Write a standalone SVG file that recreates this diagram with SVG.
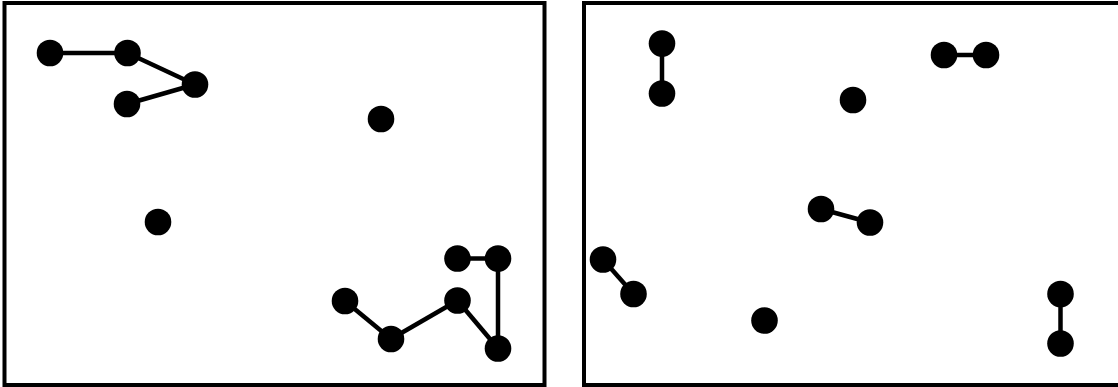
<svg xmlns="http://www.w3.org/2000/svg" width="1118" height="387" viewBox="0 0 1118 387">
<style>
.frame{fill:#fff;stroke:#000;stroke-width:4}
.n{fill:#000}
.e{stroke:#000;stroke-width:4.5;fill:none}
</style>
<rect x="0" y="0" width="1118" height="387" fill="#fff"/>
<g id="panel-left"><rect class="frame" x="4.5" y="3" width="540" height="382"/></g>
<g id="panel-right"><rect class="frame" x="584" y="3" width="540" height="382"/></g>
<g id="connectors">
<line class="e" x1="50" y1="53" x2="127.5" y2="53"/>
<line class="e" x1="127.5" y1="53" x2="195" y2="84.5"/>
<line class="e" x1="195" y1="84.5" x2="127" y2="104"/>
<line class="e" x1="345" y1="301" x2="391" y2="339"/>
<line class="e" x1="391" y1="339" x2="457.5" y2="300.5"/>
<line class="e" x1="457.5" y1="300.5" x2="498" y2="348.5"/>
<line class="e" x1="498" y1="348.5" x2="498" y2="258.5"/>
<line class="e" x1="457.5" y1="258.5" x2="498" y2="258.5"/>
<line class="e" x1="662" y1="43.5" x2="662" y2="93.5"/>
<line class="e" x1="944" y1="55" x2="986" y2="55"/>
<line class="e" x1="821" y1="209" x2="870" y2="222.5"/>
<line class="e" x1="603" y1="259.5" x2="633.5" y2="294"/>
<line class="e" x1="1060.5" y1="294" x2="1060.5" y2="343.5"/>
</g>
<g id="n1"><circle class="n" cx="50" cy="53" r="13.3"/></g>
<g id="n2"><circle class="n" cx="127.5" cy="53" r="13.3"/></g>
<g id="n3"><circle class="n" cx="195" cy="84.5" r="13.3"/></g>
<g id="n4"><circle class="n" cx="127" cy="104" r="13.3"/></g>
<g id="n5"><circle class="n" cx="381" cy="119" r="13.3"/></g>
<g id="n6"><circle class="n" cx="158" cy="222" r="13.3"/></g>
<g id="n7"><circle class="n" cx="345" cy="301" r="13.3"/></g>
<g id="n8"><circle class="n" cx="391" cy="339" r="13.3"/></g>
<g id="n9"><circle class="n" cx="457.5" cy="300.5" r="13.3"/></g>
<g id="n10"><circle class="n" cx="498" cy="348.5" r="13.3"/></g>
<g id="n11"><circle class="n" cx="457.5" cy="258.5" r="13.3"/></g>
<g id="n12"><circle class="n" cx="498" cy="258.5" r="13.3"/></g>
<g id="n13"><circle class="n" cx="662" cy="43.5" r="13.3"/></g>
<g id="n14"><circle class="n" cx="662" cy="93.5" r="13.3"/></g>
<g id="n15"><circle class="n" cx="944" cy="55" r="13.3"/></g>
<g id="n16"><circle class="n" cx="986" cy="55" r="13.3"/></g>
<g id="n17"><circle class="n" cx="853" cy="100" r="13.3"/></g>
<g id="n18"><circle class="n" cx="821" cy="209" r="13.3"/></g>
<g id="n19"><circle class="n" cx="870" cy="222.5" r="13.3"/></g>
<g id="n20"><circle class="n" cx="603" cy="259.5" r="13.3"/></g>
<g id="n21"><circle class="n" cx="633.5" cy="294" r="13.3"/></g>
<g id="n22"><circle class="n" cx="764.5" cy="320.5" r="13.3"/></g>
<g id="n23"><circle class="n" cx="1060.5" cy="294" r="13.3"/></g>
<g id="n24"><circle class="n" cx="1060.5" cy="343.5" r="13.3"/></g>
</svg>
